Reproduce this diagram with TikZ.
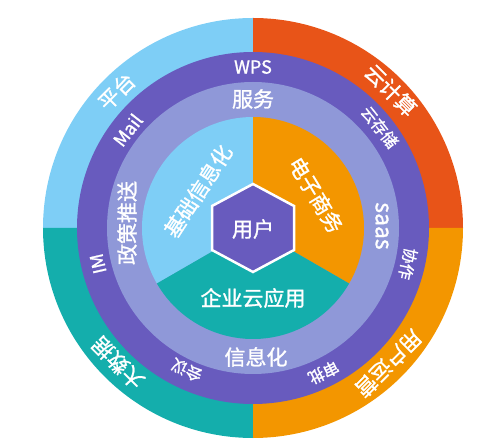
\documentclass[tikz,border=0pt]{standalone}
\usepackage{fontspec}
\newfontfamily\cjk{Noto Sans CJK SC}[FakeBold=1.2]
\definecolor{skyblue}{HTML}{7ECEF6}
\definecolor{redorange}{HTML}{E85418}
\definecolor{tealgreen}{HTML}{14AEAC}
\definecolor{sunorange}{HTML}{F39600}
\definecolor{ringpurple}{HTML}{685BBE}
\definecolor{lavender}{HTML}{8F98D8}
\begin{document}
\begin{tikzpicture}[x=1pt,y=1pt]
	\tikzset{ring_text/.style={text=white, inner sep=0pt, font=\cjk\fontsize{16}{16}\selectfont},
		latin_text/.style={ring_text, font=\cjk\fontsize{18}{18}\selectfont},
		big_text/.style={ring_text, font=\cjk\fontsize{21}{21}\selectfont}}
	\useasboundingbox (-253,-218) rectangle (247,228);
	\fill[skyblue] (0,0) -- (90:210) arc (90:180:210) -- cycle;
	\fill[redorange] (0,0) -- (0:210) arc (0:90:210) -- cycle;
	\fill[tealgreen] (0,0) -- (180:210) arc (180:270:210) -- cycle;
	\fill[sunorange] (0,0) -- (270:210) arc (270:360:210) -- cycle;
	\fill[ringpurple] (0,0) circle (176);
	\fill[lavender] (0,0) circle (146);
	\fill[skyblue] (0,0) -- (90:111) arc (90:210:111) -- cycle;
	\fill[sunorange] (0,0) -- (-30:111) arc (-30:90:111) -- cycle;
	\fill[tealgreen] (0,0) -- (210:111) arc (210:330:111) -- cycle;
	\draw[white, line width=2.5pt, fill=ringpurple] (0,44) -- (41,22) -- (41,-22) -- (0,-44) -- (-41,-22) -- (-41,22) -- cycle;
	\node[big_text] (user) at (0,-1) {用户};
	\node[big_text] (cloudapp) at (0,-70) {企业云应用};
	\node[big_text, rotate=57] (basicinfo) at (-55,37) {基础信息化};
	\node[big_text, rotate=-59] (ecommerce) at (63,33) {电子商务};
	\node[big_text] (service) at (0,129) {服务};
	\node[big_text] (informatize) at (3,-129) {信息化};
	\node[big_text, rotate=90] (policy) at (-126,5) {政策推送};
	\node[big_text, font=\cjk\fontsize{23}{23}\selectfont, rotate=-90] (saas) at (129,2) {saas};
	\node[latin_text] (wps) at (0,161) {WPS};
	\node[latin_text, rotate=52] (mail) at (142:159) {Mail};
	\node[latin_text, rotate=103] (im) at (193:159) {IM};
	\node[ring_text, rotate=-51.5] (storage) at (38.5:162) {云存储};
	\node[ring_text, rotate=-103] (teamwork) at (-13:159) {协作};
	\node[ring_text, rotate=-154] (approval) at (-64:161) {审批};
	\node[ring_text, rotate=155] (meeting) at (245:157) {会议};
	\node[big_text, rotate=45] (platform) at (135:193) {平台};
	\node[big_text, rotate=-45] (cloudcalc) at (45:195) {云计算};
	\node[big_text, rotate=135] (bigdata) at (225:191) {大数据};
	\node[big_text, rotate=225] (operation) at (-45:192) {用户运营};
\end{tikzpicture}
\end{document}
